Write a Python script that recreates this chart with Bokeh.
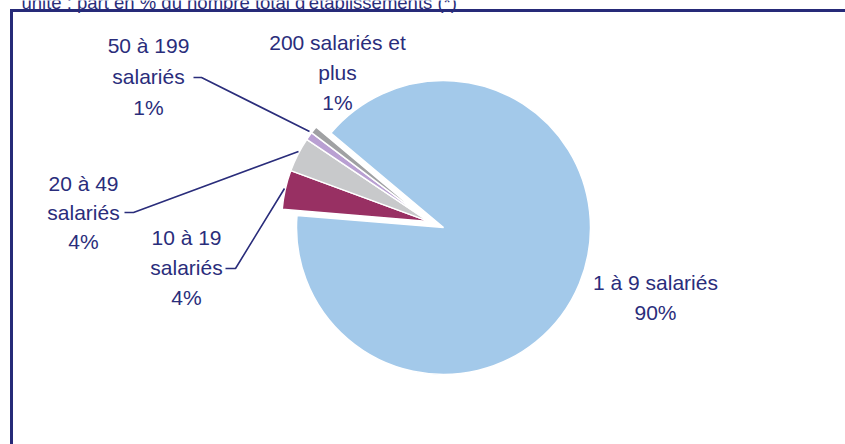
import numpy as np
from bokeh.plotting import figure
from bokeh.models import Range1d
from bokeh.embed import file_html
from bokeh.resources import INLINE
from bokeh.core.properties import value

# ---- data ----
categories = ["1 à 9 salariés", "10 à 19 salariés", "20 à 49 salariés",
              "50 à 199 salariés", "200 salariés et plus"]
shares = [90.2, 4.3, 3.8, 0.9, 0.8]
label_lines = [["1 à 9 salariés"], ["10 à 19", "salariés"], ["20 à 49", "salariés"],
               ["50 à 199", "salariés"], ["200 salariés et", "plus"]]
exploded = [False, True, True, True, True]
colors = ["#A3C9EA", "#983063", "#C8C9CB", "#B9A0D2", "#A0A1A3"]
header = "unité : part en % du nombre total d'établissements (*)"

NAVY = "#2A2D7B"
FONT = value("Liberation Sans")

W, H = 845, 444
p = figure(width=W, height=H, x_range=Range1d(0, W), y_range=Range1d(0, H),
           output_backend="svg", toolbar_location=None, min_border=0)
p.axis.visible = False
p.grid.visible = False
p.outline_line_color = None


def sy(y):
    return H - y


# ---- pie ----
cx, cy, r = 443, sy(227), 147
start0 = np.deg2rad(140)
fr = np.array(shares) / sum(shares)
cum = np.concatenate([[0], np.cumsum(fr)])
starts = start0 - cum[:-1] * 2 * np.pi
ends = start0 - cum[1:] * 2 * np.pi
idx = [i for i, e in enumerate(exploded) if e]
mid = (starts[idx[0]] + ends[idx[-1]]) / 2
off = 16
xs = [cx + (off * np.cos(mid) if e else 0) for e in exploded]
ys = [cy + (off * np.sin(mid) if e else 0) for e in exploded]

p.wedge(x=xs, y=ys, radius=r, start_angle=list(starts), end_angle=list(ends),
        direction="clock", fill_color=colors, line_color="white", line_width=1.5)

# ---- labels ----
anchors = [(655, 282, 30), (186, 237, 30), (83, 183, 29), (148, 45, 31), (337, 42, 30)]
tx, ty, tt = [], [], []
for lines, s, (ax, ay, dy) in zip(label_lines, shares, anchors):
    full = lines + [f"{round(s)}%"]
    for k, t in enumerate(full):
        tx.append(ax)
        ty.append(sy(ay + k * dy))
        tt.append(t)
p.text(x=tx, y=ty, text=tt, text_align="center", text_baseline="middle",
       text_font=FONT, text_font_size="21px", text_color=NAVY)

# leader lines
lead_x = [[225, 235, 284], [124, 133, 298], [193, 201, 309]]
lead_y = [[268, 268, 188], [212, 212, 151], [77, 77, 131]]
p.multi_line(xs=lead_x, ys=[[sy(v) for v in l] for l in lead_y],
             line_color=NAVY, line_width=1.6)

# border
p.line(x=[11, 11, 860], y=[sy(460), sy(10), sy(10)], line_color="#262A78",
       line_width=3, line_join="miter")

# header (cut off at top)
p.text(x=[21], y=[sy(2)], text=[header], text_align="left", text_baseline="alphabetic",
       text_font=FONT, text_font_size="18.5px", text_color=NAVY)

open("out.html", "w").write(file_html(p, INLINE))
